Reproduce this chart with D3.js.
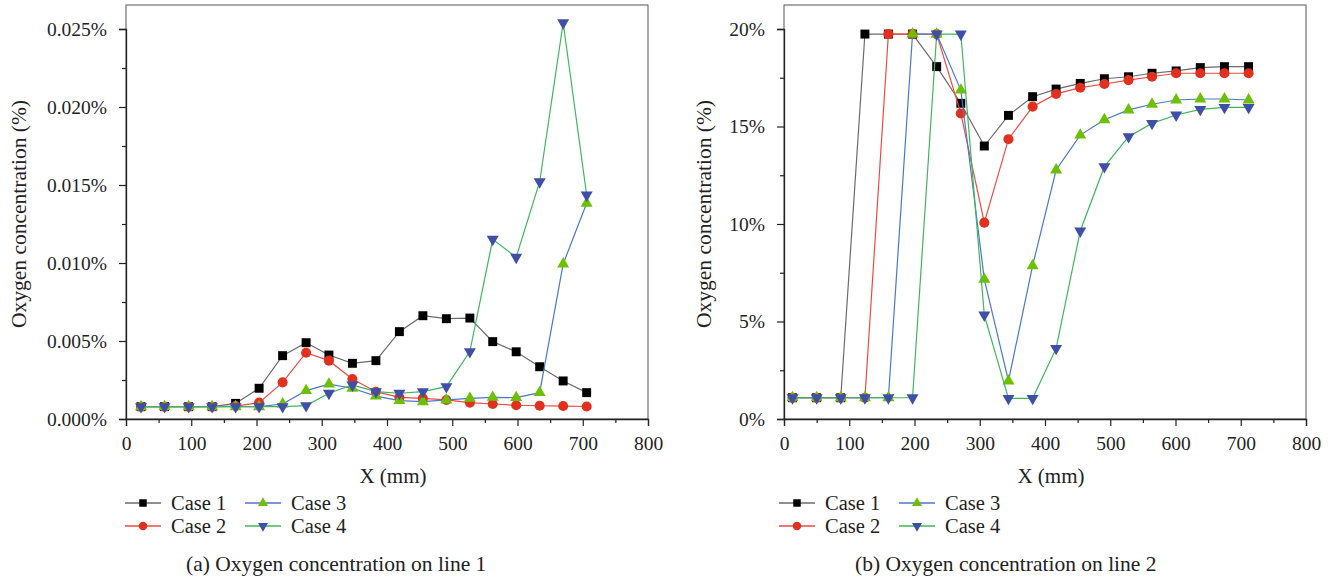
<!DOCTYPE html>
<html>
<head>
<meta charset="utf-8">
<script src="https://cdn.jsdelivr.net/npm/d3@7"></script>
<style>
  body { margin: 0; background: #fff; }
  svg text { font-family: "Liberation Serif", "DejaVu Serif", "Noto Serif", serif; }
</style>
</head>
<body>
<svg id="chart" width="1342" height="583"></svg>
<script>
// x positions (mm) of the sample points
const xLine1 = [23, 59, 96, 132, 168, 204, 240, 276, 311, 347, 383, 419, 455, 491, 527, 562, 598, 634, 670, 706];
const xLine2 = [13, 50, 87, 124, 160, 197, 234, 271, 307, 344, 381, 417, 454, 491, 528, 564, 601, 638, 675, 712];

// line 1, oxygen concentration (%)
const line1Case1 = [0.00079, 0.00079, 0.00079, 0.00079, 0.0010, 0.00197, 0.00406, 0.00489, 0.0041, 0.00357, 0.00374, 0.0056, 0.00662, 0.00643, 0.00647, 0.00496, 0.00431, 0.00335, 0.00244, 0.00169];
const line1Case2 = [0.00079, 0.00079, 0.00079, 0.00079, 0.00083, 0.00105, 0.00235, 0.00425, 0.00374, 0.00256, 0.00175, 0.00139, 0.00132, 0.00122, 0.00105, 0.00096, 0.00088, 0.00085, 0.00083, 0.0008];
const line1Case3 = [0.00079, 0.00079, 0.00079, 0.00079, 0.00079, 0.00079, 0.00096, 0.00182, 0.00224, 0.00197, 0.00147, 0.00118, 0.00111, 0.00122, 0.00132, 0.00139, 0.00137, 0.00169, 0.00994, 0.01383];
const line1Case4 = [0.00079, 0.00079, 0.00079, 0.00079, 0.00079, 0.00079, 0.00079, 0.00086, 0.00165, 0.00218, 0.00175, 0.00165, 0.00175, 0.00207, 0.00432, 0.01152, 0.01037, 0.01521, 0.0254, 0.01436];

// line 2, oxygen concentration (%)
const line2Case1 = [1.09, 1.09, 1.09, 19.74, 19.74, 19.74, 18.07, 16.19, 14.0, 15.57, 16.53, 16.92, 17.21, 17.45, 17.55, 17.73, 17.85, 18.02, 18.07, 18.07];
const line2Case2 = [1.09, 1.09, 1.09, 1.09, 19.74, 19.74, 19.74, 15.67, 10.07, 14.35, 16.02, 16.67, 16.99, 17.18, 17.38, 17.55, 17.73, 17.73, 17.73, 17.73];
const line2Case3 = [1.09, 1.09, 1.09, 1.09, 1.09, 19.74, 19.74, 16.87, 7.16, 1.95, 7.86, 12.77, 14.56, 15.35, 15.85, 16.14, 16.36, 16.41, 16.41, 16.36];
const line2Case4 = [1.09, 1.09, 1.09, 1.09, 1.09, 1.09, 19.74, 19.74, 5.33, 1.06, 1.06, 3.62, 9.64, 12.94, 14.48, 15.16, 15.59, 15.88, 15.98, 15.98];

const caseNames = ["Case 1", "Case 2", "Case 3", "Case 4"];
const xTicks = [0, 100, 200, 300, 400, 500, 600, 700, 800];
const yTicks1 = [0, 0.005, 0.01, 0.015, 0.02, 0.025];
const yTicks2 = [0, 5, 10, 15, 20];

const FONT = "'Liberation Serif', 'DejaVu Serif', 'Noto Serif', serif";

// look of each case: line colour, marker colour, marker shape
const styles = [
  {line: "#6b6b6b", fill: "#000000", sym: d3.symbolSquare, size: 80, rot: 0},
  {line: "#ec4b43", fill: "#e2301f", sym: d3.symbolCircle, size: 80, rot: 0},
  {line: "#4a78c8", fill: "#6cc000", sym: d3.symbolTriangle, size: 62, rot: 0},
  {line: "#3fb65c", fill: "#3f4ea6", sym: d3.symbolTriangle, size: 62, rot: 180}
];

const svg = d3.select("#chart");

function drawPanel(p) {
  const x = d3.scaleLinear().domain([0, 800]).range([p.left, p.right]);
  const y = d3.scaleLinear().domain([0, p.yTicks[p.yTicks.length - 1]]).range([419, 29]);
  const top = 5;
  const g = svg.append("g");

  // frame
  g.append("rect")
    .attr("x", p.left).attr("y", top)
    .attr("width", p.right - p.left).attr("height", 419 - top)
    .attr("fill", "none").attr("stroke", "#555").attr("stroke-width", 1);

  // axes, major + minor ticks
  const step = p.yTicks[1] - p.yTicks[0];
  const yMinor = p.yTicks.slice(0, -1).map(v => v + step / 2);
  const xMinor = xTicks.slice(0, -1).map(v => v + 50);

  g.append("g").attr("transform", `translate(${p.left},0)`)
    .call(d3.axisLeft(y).tickValues(p.yTicks).tickSize(7).tickPadding(12).tickFormat(p.fmt));
  g.append("g").attr("transform", `translate(${p.left},0)`)
    .call(d3.axisLeft(y).tickValues(yMinor).tickSize(4).tickFormat(""))
    .select(".domain").remove();
  g.append("g").attr("transform", "translate(0,419)")
    .call(d3.axisBottom(x).tickValues(xTicks).tickSize(7).tickPadding(10));
  g.append("g").attr("transform", "translate(0,419)")
    .call(d3.axisBottom(x).tickValues(xMinor).tickSize(4).tickFormat(""))
    .select(".domain").remove();

  g.selectAll(".domain").attr("stroke", "#222").attr("stroke-width", 1.3);
  g.selectAll(".tick line").attr("stroke", "#222").attr("stroke-width", 1.2);
  g.selectAll(".tick text").attr("fill", "#222")
    .attr("font-family", FONT).attr("font-size", 19.5)
    .style("font-family", FONT);

  // axis titles
  g.append("text")
    .attr("transform", `translate(${p.ylabX},214) rotate(-90)`)
    .attr("text-anchor", "middle")
    .attr("font-family", FONT).attr("font-size", 21.5).attr("fill", "#222")
    .text("Oxygen concentration (%)");
  g.append("text")
    .attr("x", (p.left + p.right) / 2 + 6).attr("y", 483)
    .attr("text-anchor", "middle")
    .attr("font-family", FONT).attr("font-size", 21).attr("fill", "#222")
    .text("X (mm)");

  // series
  const line = d3.line().x(d => x(d[0])).y(d => y(d[1]));
  p.series.forEach((vals, i) => {
    const s = styles[i];
    const pts = p.xs.map((xv, j) => [xv, vals[j]]);
    g.append("path").datum(pts)
      .attr("d", line).attr("fill", "none")
      .attr("stroke", s.line).attr("stroke-width", 1.2);
    g.selectAll(null).data(pts).enter().append("path")
      .attr("d", d3.symbol().type(s.sym).size(s.size))
      .attr("transform", d => `translate(${x(d[0])},${y(d[1])}) rotate(${s.rot})`)
      .attr("fill", s.fill);
  });

  // legend
  caseNames.forEach((name, i) => {
    const s = styles[i];
    const col = Math.floor(i / 2), row = i % 2;
    const lx = p.legX[col], ly = 503 + row * 23;
    g.append("line")
      .attr("x1", lx).attr("x2", lx + 36).attr("y1", ly).attr("y2", ly)
      .attr("stroke", s.line).attr("stroke-width", 1.5);
    g.append("path")
      .attr("d", d3.symbol().type(s.sym).size(s.size * 0.7))
      .attr("transform", `translate(${lx + 18},${ly}) rotate(${s.rot})`)
      .attr("fill", s.fill);
    g.append("text")
      .attr("x", lx + 46).attr("y", ly + 7)
      .attr("font-family", FONT).attr("font-size", 20.5).attr("fill", "#222")
      .text(name);
  });

  // caption
  g.append("text")
    .attr("x", p.capX).attr("y", 571)
    .attr("font-family", FONT).attr("font-size", 21.5).attr("fill", "#222")
    .text(p.caption);
}

drawPanel({
  left: 126, right: 648, xs: xLine1,
  series: [line1Case1, line1Case2, line1Case3, line1Case4],
  yTicks: yTicks1, fmt: d => d3.format(".3f")(d) + "%",
  ylabX: 26, legX: [125, 245], capX: 186,
  caption: "(a) Oxygen concentration on line 1"
});

drawPanel({
  left: 784, right: 1306, xs: xLine2,
  series: [line2Case1, line2Case2, line2Case3, line2Case4],
  yTicks: yTicks2, fmt: d => d + "%",
  ylabX: 711, legX: [779, 899], capX: 855,
  caption: "(b) Oxygen concentration on line 2"
});
</script>
</body>
</html>
